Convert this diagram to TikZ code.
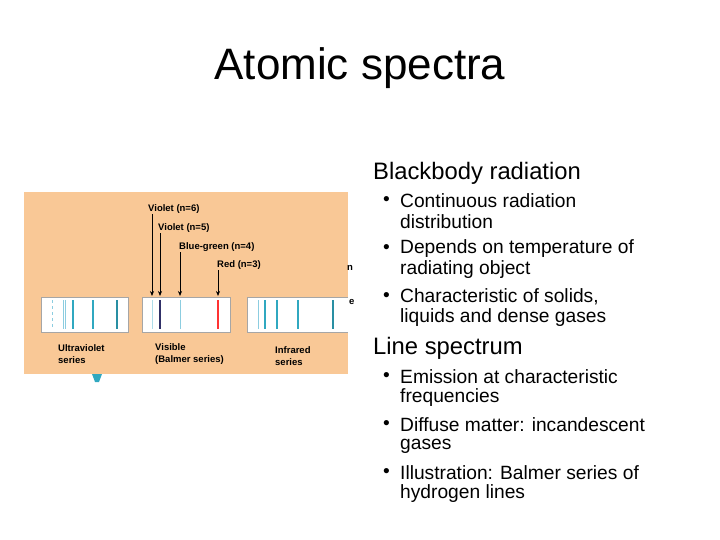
\documentclass[tikz,border=0pt]{standalone}
\usepackage{fontspec}
\usetikzlibrary{arrows.meta}
\setmainfont{Liberation Sans}
\definecolor{panel}{HTML}{F9C896}
\definecolor{lb}{HTML}{8CCDE0}
\definecolor{tb}{HTML}{30A8C0}
\definecolor{navy}{HTML}{303068}
\begin{document}
\begin{tikzpicture}[x=1pt,y=-1pt,
  txt/.style={anchor=west,inner sep=0pt,font=\fontsize{19.2}{19.2}\selectfont},
  hd/.style={anchor=west,inner sep=0pt,font=\fontsize{23.8}{24}\selectfont},
  lab/.style={anchor=west,inner sep=0pt,font=\bfseries\fontsize{9.5}{12}\selectfont,align=left},
  strip/.style={fill=white,draw=gray!70,line width=0.4pt},
  arr/.style={-{Stealth[length=5pt,width=4pt]},line width=0.7pt}]
\useasboundingbox (0,0) rectangle (720,540);
\node[inner sep=0pt,font=\fontsize{44}{44}\selectfont] (title) at (360,68) {Atomic spectra};
% panel
\fill[panel] (24,192) rectangle (348,374);
\draw[strip] (41,297) -- (128,297) -- (128,332) -- (41,332) -- cycle;
\draw[strip] (142,297) -- (230,297) -- (230,332) -- (142,332) -- cycle;
\fill[white] (247,297) rectangle (348,332);
\draw[gray!70,line width=0.4pt] (348,297) -- (247,297) -- (247,332) -- (348,332);
% UV lines
\draw[lb,dashed,line width=0.7pt] (52,300) -- (52,329);
\draw[lb,line width=1pt] (63,300) -- (63,329);
\draw[lb,line width=1pt] (65.5,300) -- (65.5,329);
\draw[tb,line width=1.1pt] (73,300) -- (73,329);
\draw[tb,line width=1.1pt] (93,300) -- (93,329);
\draw[tb!85!black,line width=1.3pt] (117,300) -- (117,329);
% visible
\draw[lb!70,line width=0.9pt] (152,300) -- (152,329);
\draw[navy,line width=1.2pt] (160,300) -- (160,329);
\draw[lb,line width=1pt] (180,300) -- (180,329);
\draw[red!80!white,line width=1.3pt] (218,300) -- (218,329);
% IR
\draw[lb,line width=1pt] (258,300) -- (258,329);
\draw[tb,line width=1.1pt] (265,300) -- (265,329);
\draw[tb,line width=1.1pt] (277,300) -- (277,329);
\draw[tb,line width=1.1pt] (298,300) -- (298,329);
\draw[tb!85!black,line width=1.3pt] (333,300) -- (333,329);
% labels and arrows
\node[lab] (v6) at (148,209) {Violet (n=6)};
\node[lab] (v5) at (158,228) {Violet (n=5)};
\node[lab] (bg) at (179,247) {Blue-green (n=4)};
\node[lab] (rd) at (217,265) {Red (n=3)};
\coordinate (t6) at (152,296); \coordinate (t5) at (160,296);
\coordinate (t4) at (180,296); \coordinate (t3) at (218,296);
\draw[arr] (152,214) -- (t6);
\draw[arr] (160,233) -- (t5);
\draw[arr] (180,252) -- (t4);
\draw[arr] (218,270) -- (t3);
\node[lab] (uv) at (58,354) {Ultraviolet\\series};
\node[lab] (vis) at (155,354) {Visible\\(Balmer series)};
\node[lab] (ir) at (275,356) {Infrared\\series};
\node[lab] (sn) at (347,268) {n};
\node[lab] (se) at (349,302) {e};
\fill[tb] (92,374) -- (102,374) -- (99,382) -- (95,382) -- cycle;
% right text
\node[hd] (bb) at (373,173) {Blackbody radiation};
\foreach \y/\t in {201/{Continuous radiation}, 249/{Depends on temperature of}, 297/{Characteristic of solids,}, 377/{Emission at characteristic}, 425/{Diffuse matter: incandescent}, 473/{Illustration: Balmer series of}}
  {\node[txt] at (383,\y) {•}; \node[txt] at (400,\y) {\t};}
\foreach \y/\t in {222/distribution, 270/radiating object, 318/liquids and dense gases, 398/frequencies, 446/gases, 494/hydrogen lines}
  {\node[txt] at (400,\y) {\t};}
\node[hd] (ls) at (373,348) {Line spectrum};
\end{tikzpicture}
\end{document}
